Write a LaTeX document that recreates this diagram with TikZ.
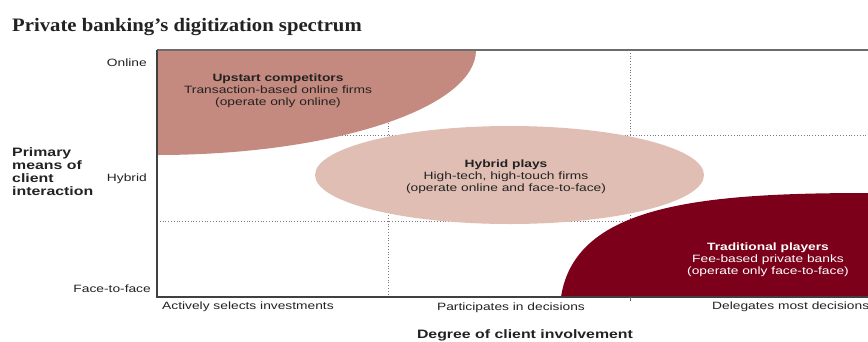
\documentclass[tikz,border=0pt]{standalone}
\usepackage{fontspec}
\setmainfont{Liberation Sans}[FakeStretch=1.3]
\newfontfamily\titlefont{Liberation Serif}[FakeStretch=1.09]
\definecolor{upstart}{HTML}{C4897F}
\definecolor{hybridfill}{HTML}{E0BEB4}
\definecolor{tradfill}{HTML}{7C0019}
\definecolor{labtext}{HTML}{222222}
\definecolor{gridgray}{HTML}{7A7A7A}
\begin{document}
\begin{tikzpicture}[x=1pt,y=-1pt,
  lab/.style={font=\fontsize{10.6}{12}\selectfont, text=labtext, inner sep=0pt},
  blockText/.style={lab, align=center},
  axistitle/.style={font=\fontsize{12.2}{13}\selectfont\bfseries, text=labtext, inner sep=0pt},
  gridline/.style={draw=gridgray, line width=0.8pt, dotted}]
\useasboundingbox (0,0) rectangle (868,341);
\clip (0,0) rectangle (868,341);
\fill[white] (0,0) rectangle (868,341);

% title
\node[anchor=base west, inner sep=0pt, text=labtext,
      font=\titlefont\fontsize{19}{20}\selectfont\bfseries] (title) at (12,31)
  {Private banking’s digitization spectrum};

% dotted grid
\coordinate (g1t) at (388,50);  \coordinate (g1b) at (388,297);
\coordinate (g2t) at (630,50);  \coordinate (g2b) at (630,297);
\coordinate (h1l) at (157,135); \coordinate (h1r) at (868,135);
\coordinate (h2l) at (157,221); \coordinate (h2r) at (868,221);
\draw[gridline] (g1t) -- (g1b);
\draw[gridline] (g2t) -- (g2b);
\draw[gridline] (h1l) -- (h1r);
\draw[gridline] (h2l) -- (h2r);

% segments
\fill[upstart] (157,50) -- (476,50)
  arc[start angle=0, end angle=90, x radius=319, y radius=105] -- cycle;
\fill[hybridfill] (509.5,175) ellipse[x radius=194.5, y radius=49];
\fill[tradfill] (561,297) .. controls (575,205) and (700,193) .. (868,193)
  -- (880,193) -- (880,297) -- cycle;

% frame
\coordinate (ftl) at (157,50);
\coordinate (ftr) at (868,50);
\coordinate (fbl) at (157,297);
\coordinate (fbr) at (868,297);
\draw[draw=gray!85!black, line width=1.3pt] (ftl) -- (ftr);
\draw[draw=black!75, line width=1.3pt] (ftl) -- (fbl) -- (fbr);
\coordinate (tk) at (630,297);
\coordinate (tkb) at (630,301);
\draw[draw=black!60, line width=0.6pt] (tk) -- (tkb);

% segment labels
\node[blockText] (up) at (278,91)
  {\textbf{Upstart competitors}\\Transaction-based online firms\\(operate only online)};
\node[blockText] (hy) at (506,176.5)
  {\textbf{Hybrid plays}\\High-tech, high-touch firms\\(operate online and face-to-face)};
\node[blockText, text=white] (tr) at (768,260)
  {\textbf{Traditional players}\\Fee-based private banks\\(operate only face-to-face)};

% vertical axis
\node[lab, anchor=east] (yon) at (147,63) {Online};
\node[lab, anchor=east] (yhy) at (147,178.5) {Hybrid};
\node[lab, anchor=east] (yff) at (151,289) {Face-to-face};
\node[axistitle, anchor=west, align=left, font=\fontsize{12.2}{13}\selectfont\bfseries] (ytitle) at (12,172)
  {Primary\\means of\\client\\interaction};

% horizontal axis
\node[lab, anchor=west] (xa) at (162,307) {Actively selects investments};
\node[lab] (xp) at (511,308) {Participates in decisions};
\node[lab, anchor=west] (xd) at (712,307) {Delegates most decisions};
\node[axistitle] (xtitle) at (525,335) {Degree of client involvement};
\end{tikzpicture}
\end{document}
